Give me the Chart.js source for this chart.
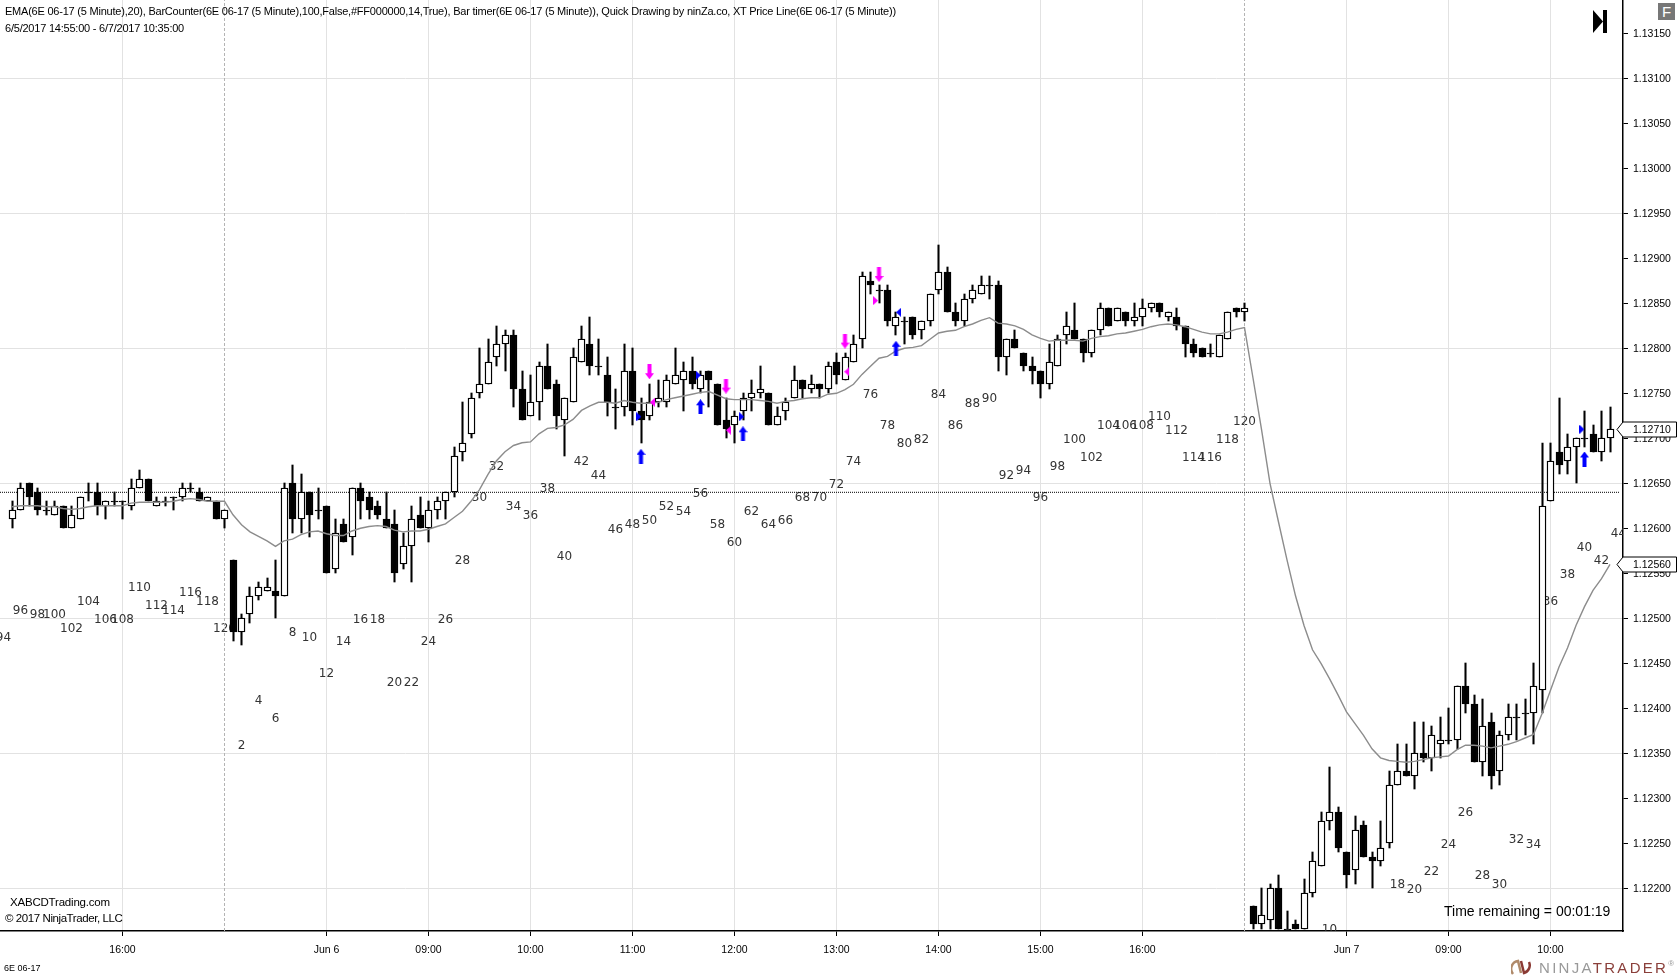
<!DOCTYPE html>
<html>
<head>
<meta charset="utf-8">
<title>6E 06-17</title>
<script src="https://cdn.jsdelivr.net/npm/chart.js@4"></script>
<style>
   html, body { margin: 0; padding: 0; background: #fff; overflow: hidden; }
   #wrap { position: relative; width: 1677px; height: 978px; font-family: "Liberation Sans", Arial, sans-serif; color: #000; }
   #wrap div, #wrap svg { position: absolute; white-space: nowrap; }
   .hdr { left: 5px; font-size: 11px; line-height: 14px; letter-spacing: -0.22px; }
</style>
</head>
<body>
<div id="wrap">
   <canvas id="chart" width="1677" height="978"></canvas>
   <div class="hdr" style="top:4px">EMA(6E 06-17 (5 Minute),20), BarCounter(6E 06-17 (5 Minute),100,False,#FF000000,14,True), Bar timer(6E 06-17 (5 Minute)), Quick Drawing by ninZa.co, XT Price Line(6E 06-17 (5 Minute))</div>
   <div class="hdr" style="top:21px">6/5/2017 14:55:00 - 6/7/2017 10:35:00</div>
   <svg style="left:1593px;top:10px" width="15" height="24"><path d="M0 0 L10 11.5 L0 23 Z M10 0 H14 V23 H10 Z" fill="#000"/></svg>
   <div style="left:1658px;top:3px;width:17px;height:17px;background:#777;color:#fff;font-size:15px;line-height:17px;text-align:center">F</div>
   <div style="left:10px;top:896px;font-size:11.5px;letter-spacing:-0.2px">XABCDTrading.com</div>
   <div style="left:5px;top:912px;font-size:11.5px;letter-spacing:-0.42px">© 2017 NinjaTrader, LLC</div>
   <div style="left:1444px;top:903px;font-size:14px">Time remaining = 00:01:19</div>
   <div style="left:4px;top:963px;font-size:9px">6E 06-17</div>
   <svg style="left:1511px;top:959px" width="20" height="18"><path d="M2 15 A8 8 0 0 1 7 2 L10 14" fill="none" stroke="#b08a6a" stroke-width="2.5"/><path d="M10 2 L13 14 A8 8 0 0 0 18 3" fill="none" stroke="#8a3a34" stroke-width="2.5"/></svg>
   <div style="left:1539px;top:959px;font-size:15px;letter-spacing:2.3px;color:#999">NINJA<span style="color:#8a3f3a">TRADER</span><span style="font-size:8px;vertical-align:top;letter-spacing:0">®</span></div>
</div>
<script>
// all prices in 1e-5 above 1.12000, e.g. 650 = 1.12650
const basePrice = 1.12

const opens = [
   610,620,650,640,620,615,625,600,610,640,
   640,625,630,630,625,645,655,625,630,635,
   635,645,640,630,630,610,565,485,505,525,
   530,530,525,650,610,640,620,625,555,605,
   590,645,635,625,610,605,560,580,615,600,
   620,630,640,685,705,750,760,790,805,815,
   755,725,740,780,760,720,740,785,805,780,
   770,735,735,775,730,725,740,740,760,765,
   775,755,775,760,720,715,730,745,750,750,
   715,730,745,765,755,760,755,785,765,785,
   810,875,865,865,825,830,835,820,830,865,
   885,840,830,855,860,870,870,790,810,795,
   780,775,760,780,815,820,810,795,820,845,
   830,840,830,835,845,850,835,835,825,805,
   800,795,790,810,845,840,180,160,165,200,
   155,160,155,195,225,275,285,240,220,270,
   235,230,250,315,330,325,350,345,360,365,
   365,425,405,340,385,330,370,390,395,395,
   420,630,685,675,690,700,705,685,700
]
const highs = [
   630,650,650,645,630,630,625,625,635,650,
   650,630,640,630,655,665,655,635,635,635,
   650,650,645,635,630,620,565,505,535,540,
   545,565,650,670,660,640,645,625,610,610,
   645,650,640,630,640,620,595,625,635,630,
   635,640,690,740,750,800,810,825,820,820,
   775,770,785,805,765,745,800,825,835,810,
   790,755,805,800,745,760,765,770,800,785,
   790,775,775,760,745,730,750,765,780,750,
   735,745,780,765,770,760,785,795,795,815,
   885,885,870,870,840,835,835,830,860,915,
   890,850,860,870,880,880,875,810,820,795,
   790,775,805,815,840,850,810,820,850,845,
   845,840,850,855,850,850,840,845,825,810,
   800,805,815,840,845,850,180,200,205,215,
   175,165,210,240,285,335,290,240,280,275,
   240,275,330,360,360,385,385,380,390,400,
   425,450,415,410,395,375,405,405,410,450,
   695,695,745,705,700,730,715,730,735
]
const lows = [
   600,620,625,615,615,615,600,600,610,630,
   615,610,625,610,620,645,630,625,625,620,
   630,640,630,630,610,600,475,470,495,520,
   530,500,525,595,595,590,610,550,550,585,
   570,610,610,610,600,540,555,540,600,585,
   610,610,635,675,700,745,760,780,775,735,
   720,725,720,755,710,680,740,785,770,770,
   725,710,725,715,695,720,735,735,760,730,
   755,750,735,715,700,695,720,730,745,715,
   715,720,745,745,750,745,750,760,765,785,
   800,860,850,825,815,805,810,810,825,860,
   840,825,825,850,860,855,775,770,800,775,
   760,745,755,780,805,810,785,790,815,825,
   830,825,825,825,840,835,830,820,790,790,
   790,790,790,810,835,830,155,155,155,155,
   155,155,155,190,225,265,240,200,205,235,
   200,225,245,315,325,310,340,330,345,360,
   355,395,340,325,310,315,365,365,370,360,
   395,630,660,660,650,690,685,675,685
]
const closes = [
   620,645,635,620,620,625,600,615,635,640,
   625,630,630,630,645,655,630,630,630,635,
   645,645,630,635,610,620,485,500,525,535,
   535,525,645,610,640,615,620,550,595,585,
   645,630,620,615,600,550,580,610,600,620,
   630,640,680,695,745,760,785,805,815,755,
   720,740,780,755,725,745,790,810,780,780,
   740,735,775,730,720,740,745,765,770,775,
   760,770,765,715,710,725,745,750,755,715,
   725,740,765,755,760,755,780,770,790,805,
   880,870,865,830,835,830,815,830,860,885,
   840,830,855,865,870,870,790,810,800,780,
   775,760,785,810,825,810,795,820,845,825,
   845,830,835,845,850,840,840,825,805,795,
   790,795,815,840,840,845,160,170,200,155,
   155,155,195,230,275,285,245,215,265,235,
   230,245,315,330,325,350,345,370,365,365,
   425,405,340,380,325,370,390,390,395,425,
   625,675,670,690,700,700,685,700,710
]
const ema = [
   624,625,625,625,624,624,622,621,622,624,
   625,625,625,625,628,629,629,629,629,630,
   632,633,632,630,630,630,615,604,596,591,
   586,580,586,588,593,596,597,594,592,592,
   597,600,602,603,602,598,596,597,597,599,
   602,605,612,619,630,643,660,675,685,692,
   695,696,705,711,712,715,721,731,736,740,
   740,739,742,740,739,739,740,743,745,747,
   749,751,752,748,744,743,743,743,742,741,
   739,741,742,744,745,745,749,750,754,760,
   771,780,789,791,797,800,801,803,810,817,
   819,820,824,827,831,834,828,827,825,821,
   815,811,808,809,809,809,808,811,813,814,
   816,817,819,821,824,826,827,826,824,821,
   818,816,816,818,821,823,767,710,650,607,
   565,525,492,465,450,433,415,396,383,370,
   355,345,342,341,340,341,343,345,346,347,
   354,359,359,358,356,358,360,363,367,371,
   394,420,446,467,492,513,531,544,560
]

// bar counter labels, every second bar
const counterBars = [
   -1,1,3,5,7,9,11,13,15,17,19,21,23,25,
   27,29,31,33,35,37,39,41,43,45,47,49,51,53,55,57,59,61,63,65,67,69,71,73,75,77,79,81,83,85,
   87,89,91,93,95,97,99,101,103,105,107,109,111,113,115,117,119,121,123,125,127,129,131,133,135,137,139,141,143,145,
   155,163,165,167,169,171,173,175,177,179,181,183,185,187,189
]
const counterTexts = [
   94,96,98,100,102,104,106,108,110,112,114,116,118,120,
   2,4,6,8,10,12,14,16,18,20,22,24,26,28,30,32,34,36,38,40,42,44,46,48,50,52,54,56,58,60,
   62,64,66,68,70,72,74,76,78,80,82,84,86,88,90,92,94,96,98,100,102,104,106,108,110,112,114,116,118,120,
   10,18,20,22,24,26,28,30,32,34,36,38,40,42,44
]
const counterPrices = [
   480,510,505,505,490,520,500,500,535,515,510,530,520,490,
   360,410,390,485,480,440,475,500,500,430,430,475,500,565,635,670,625,615,645,570,675,660,600,605,610,625,620,640,605,585,
   620,605,610,635,635,650,675,750,715,695,700,750,715,740,745,660,665,635,670,700,680,715,715,715,725,710,680,680,700,720,
   155,205,200,220,250,285,215,205,255,250,520,550,580,565,595
]

// signal markers
const upArrowBars = [74,81,86,104,185]
const upArrowPrices = [680,735,705,800,677]
const downArrowBars = [75,84,98,102]
const downArrowPrices = [774,758,808,882]
const blueRightBars = [73.75,80.75,85.85,184.7]
const blueRightPrices = [724,770,724,710]
const blueLeftBars = [104.3]
const blueLeftPrices = [840]
const pinkLeftBars = [75.35,84.3,98.2]
const pinkLeftPrices = [740,709,774]
const pinkRightBars = [101.6]
const pinkRightPrices = [853]

const timeTickBars = [13,37,49,61,73,85,97,109,121,133,157,169,181]
const timeTickLabels = ['16:00','Jun 6','09:00','10:00','11:00','12:00','13:00','14:00','15:00','16:00','Jun 7','09:00','10:00']
const sessionBreaks = [25,145]
const priceLine = 640
const flagPrices = [710,560]

const toPrice = v => basePrice + v / 100000
const points = (xs, ys) => xs.map((x, i) => ({ x: x, y: toPrice(ys[i]) }))
const bars = opens.map((o, i) => i)

const xMin = -12 / 8.5
const xMax = (1623 - 12) / 8.5
const yMax = 1.12 + 1187 / 100000
const yMin = 1.122 - 42.7 / 90000

function arrowImage(color, up) {
   const c = document.createElement('canvas')
   c.width = 9
   c.height = 15
   const g = c.getContext('2d')
   g.fillStyle = color
   g.beginPath()
   if (up) {
      g.moveTo(4.5, 0); g.lineTo(9, 6); g.lineTo(6.5, 6); g.lineTo(6.5, 15); g.lineTo(2.5, 15); g.lineTo(2.5, 6); g.lineTo(0, 6)
   } else {
      g.moveTo(4.5, 15); g.lineTo(9, 9); g.lineTo(6.5, 9); g.lineTo(6.5, 0); g.lineTo(2.5, 0); g.lineTo(2.5, 9); g.lineTo(0, 9)
   }
   g.closePath()
   g.fill()
   return c
}

function triangleImage(color, right) {
   const c = document.createElement('canvas')
   c.width = 5
   c.height = 9
   const g = c.getContext('2d')
   g.fillStyle = color
   g.beginPath()
   if (right) {
      g.moveTo(0, 0); g.lineTo(5, 4.5); g.lineTo(0, 9)
   } else {
      g.moveTo(5, 0); g.lineTo(0, 4.5); g.lineTo(5, 9)
   }
   g.closePath()
   g.fill()
   return c
}

function markerSet(xs, ys, image, color) {
   return {
      type: 'scatter',
      data: points(xs, ys),
      pointStyle: image,
      pointRadius: 7,
      pointBackgroundColor: color,
      pointBorderColor: color,
      pointBorderWidth: 0,
      order: 0
   }
}

// snap candles to whole pixels, and give dojis one pixel of height
const snapCandles = {
   id: 'snapCandles',
   beforeDatasetsDraw(chart) {
      chart.data.datasets.forEach((ds, i) => {
         if (ds.type !== 'bar') return
         chart.getDatasetMeta(i).data.forEach(el => {
            el.x = Math.floor(el.x) + 0.5
            el.y = Math.round(el.y)
            el.base = Math.round(el.base)
            if (el.y === el.base) el.base = el.y + 1
         })
      })
   }
}

// counter labels sit under the candles
const counterLabels = {
   id: 'counterLabels',
   beforeDatasetsDraw(chart) {
      const { ctx, chartArea, scales } = chart
      ctx.save()
      ctx.beginPath()
      ctx.rect(chartArea.left, chartArea.top, chartArea.width, chartArea.height)
      ctx.clip()
      ctx.font = '12px "DejaVu Sans"'
      ctx.fillStyle = '#333'
      ctx.textAlign = 'center'
      ctx.textBaseline = 'middle'
      counterBars.forEach((b, i) => {
         ctx.fillText(counterTexts[i], scales.x.getPixelForValue(b), scales.y.getPixelForValue(toPrice(counterPrices[i])) + 1.5)
      })
      ctx.restore()
   }
}

// price flags on the axis
const priceFlags = {
   id: 'priceFlags',
   afterDraw(chart) {
      const { ctx, chartArea, scales } = chart
      const r = chartArea.right
      ctx.save()
      ctx.font = '10.5px "Liberation Sans"'
      ctx.textBaseline = 'middle'
      flagPrices.forEach(p => {
         const v = toPrice(p)
         const y = Math.round(scales.y.getPixelForValue(v)) + 0.5
         ctx.beginPath()
         ctx.moveTo(r - 6, y)
         ctx.lineTo(r, y - 7.5)
         ctx.lineTo(1676.5, y - 7.5)
         ctx.lineTo(1676.5, y + 7.5)
         ctx.lineTo(r, y + 7.5)
         ctx.closePath()
         ctx.fillStyle = '#fff'
         ctx.fill()
         ctx.strokeStyle = '#000'
         ctx.lineWidth = 1
         ctx.stroke()
         ctx.fillStyle = '#000'
         ctx.fillText(v.toFixed(5), 1633, y + 1)
      })
      ctx.restore()
   }
}

const noPadding = scale => {
   scale.paddingLeft = 0
   scale.paddingRight = 0
   scale.paddingTop = 0
   scale.paddingBottom = 0
}

new Chart(document.getElementById('chart'), {
   data: {
      datasets: [
         markerSet(upArrowBars, upArrowPrices, arrowImage('#0000ff', true), '#0000ff'),
         markerSet(downArrowBars, downArrowPrices, arrowImage('#ff00ff', false), '#ff00ff'),
         markerSet(blueRightBars, blueRightPrices, triangleImage('#0000ff', true), '#0000ff'),
         markerSet(blueLeftBars, blueLeftPrices, triangleImage('#0000ff', false), '#0000ff'),
         markerSet(pinkLeftBars, pinkLeftPrices, triangleImage('#ff00ff', false), '#ff00ff'),
         markerSet(pinkRightBars, pinkRightPrices, triangleImage('#ff00ff', true), '#ff00ff'),
         {
            type: 'line',
            data: points(bars, ema),
            borderColor: '#8c8c8c',
            borderWidth: 1.4,
            pointRadius: 0,
            tension: 0,
            order: 1
         },
         {
            type: 'bar',
            data: bars.map(i => ({ x: i, y: [toPrice(opens[i]), toPrice(closes[i])] })),
            grouped: false,
            barThickness: 7,
            backgroundColor: bars.map(i => closes[i] > opens[i] ? '#fff' : '#000'),
            borderColor: '#000',
            borderWidth: 1.4,
            borderSkipped: false,
            order: 2
         },
         {
            type: 'bar',
            data: bars.map(i => ({ x: i, y: [toPrice(lows[i]), toPrice(highs[i])] })),
            grouped: false,
            barThickness: 1.4,
            backgroundColor: '#000',
            borderWidth: 0,
            order: 3
         },
         {
            type: 'line',
            data: [{ x: xMin, y: toPrice(priceLine) }, { x: (1620 - 12) / 8.5, y: toPrice(priceLine) }],
            borderColor: '#000',
            borderWidth: 1,
            borderDash: [1, 1],
            pointRadius: 0,
            order: 4
         },
         ...sessionBreaks.map(b => ({
            type: 'line',
            data: [{ x: b, y: yMin }, { x: b, y: yMax }],
            borderColor: '#b4b4b4',
            borderWidth: 1,
            borderDash: [3, 2],
            pointRadius: 0,
            order: 5
         }))
      ]
   },
   options: {
      responsive: false,
      animation: false,
      devicePixelRatio: 1,
      layout: { autoPadding: false, padding: 0 },
      plugins: { legend: { display: false }, tooltip: { enabled: false } },
      scales: {
         x: {
            type: 'linear',
            min: xMin,
            max: xMax,
            offset: false,
            afterBuildTicks: scale => { scale.ticks = timeTickBars.map(v => ({ value: v })) },
            afterFit: scale => { scale.height = 978 - 931; noPadding(scale) },
            border: { color: '#000', width: 1.5 },
            grid: { offset: false, color: '#e2e2e2', lineWidth: 1, tickColor: '#000', tickLength: 5 },
            ticks: {
               autoSkip: false,
               maxRotation: 0,
               padding: 8,
               color: '#000',
               font: { family: '"Liberation Sans"', size: 10.5 },
               callback: v => timeTickLabels[timeTickBars.indexOf(v)]
            }
         },
         y: {
            type: 'linear',
            position: 'right',
            min: yMin,
            max: yMax,
            afterBuildTicks: scale => {
               const t = []
               for (let p = 200; p <= 1150; p += 50) t.push({ value: toPrice(p) })
               scale.ticks = t
            },
            afterFit: scale => { scale.width = 54; noPadding(scale) },
            border: { color: '#000', width: 1.5 },
            grid: {
               color: c => (Math.round((c.tick.value - 1.12) * 100000) - 200) % 150 === 0 ? '#e2e2e2' : 'rgba(0,0,0,0)',
               lineWidth: 1,
               tickColor: '#000',
               tickLength: 5
            },
            ticks: {
               padding: 5,
               labelOffset: 1,
               color: '#000',
               font: { family: '"Liberation Sans"', size: 10.5 },
               callback: v => v.toFixed(5)
            }
         }
      }
   },
   plugins: [snapCandles, counterLabels, priceFlags]
})
</script>
</body>
</html>
